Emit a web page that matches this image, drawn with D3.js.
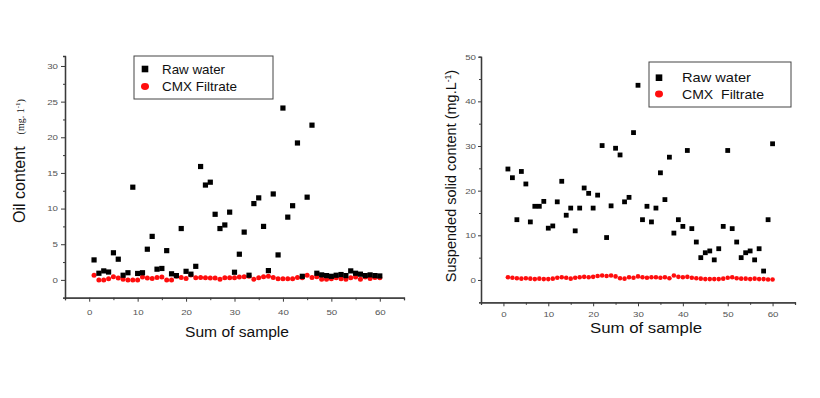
<!DOCTYPE html>
<html>
<head>
<meta charset="utf-8">
<script src="https://cdn.jsdelivr.net/npm/d3@7"></script>
<style>
  html, body { margin: 0; padding: 0; background: #fff; }
  svg { display: block; font-family: Arial, "Liberation Sans", sans-serif; }
</style>
</head>
<body>
<svg id="chart" width="820" height="398"></svg>
<script>
// Sample numbers (shared by both panels)
const samples = [
  1, 2, 3, 4, 5, 6, 7, 8, 9, 10, 11, 12, 13, 14, 15, 16, 17, 18, 19, 20,
  21, 22, 23, 24, 25, 26, 27, 28, 29, 30, 31, 32, 33, 34, 35, 36, 37, 38, 39, 40,
  41, 42, 43, 44, 45, 46, 47, 48, 49, 50, 51, 52, 53, 54, 55, 56, 57, 58, 59, 60
];

// Left panel: oil content (mg/l)
const oilRaw = [
  2.8, 0.93, 1.26, 1.1, 3.8, 2.9, 0.65, 1.0, 13.0, 0.9,
  1.0, 4.3, 6.1, 1.5, 1.6, 4.1, 0.85, 0.6, 7.2, 1.2,
  0.8, 1.9, 15.9, 13.3, 13.7, 9.2, 7.2, 7.7, 9.5, 1.07,
  3.6, 6.7, 0.65, 10.7, 11.5, 7.5, 1.3, 12.05, 3.5, 24.1,
  8.8, 10.4, 19.2, 0.5, 11.6, 21.7, 0.93, 0.7, 0.6, 0.5,
  0.65, 0.75, 0.6, 1.26, 0.93, 0.8, 0.6, 0.7, 0.6, 0.55
];
const oilFiltrate = [
  0.65, 0.0, 0.0, 0.15, 0.45, 0.25, 0.1, 0.0, 0.0, 0.0,
  0.4, 0.25, 0.2, 0.35, 0.4, 0.0, 0.0, 0.5, 0.35, 0.2,
  0.7, 0.3, 0.35, 0.3, 0.25, 0.25, 0.1, 0.3, 0.3, 0.3,
  0.4, 0.45, 0.5, 0.1, 0.3, 0.45, 0.5, 0.35, 0.15, 0.15,
  0.15, 0.15, 0.35, 0.3, 0.65, 0.35, 0.45, 0.1, 0.1, 0.15,
  0.3, 0.15, 0.1, 0.3, 0.4, 0.1, 0.4, 0.2, 0.35, 0.3
];

// Right panel: suspended solid content (mg/L)
const ssRaw = [
  24.85, 22.9, 13.5, 24.3, 21.5, 13.0, 16.5, 16.5, 17.6, 11.6,
  12.1, 17.5, 22.1, 14.5, 16.1, 11.0, 16.1, 20.6, 19.4, 16.1,
  19.0, 30.1, 9.5, 16.6, 29.5, 28.0, 17.5, 18.5, 33.0, 43.6,
  13.5, 16.5, 13.0, 16.1, 24.0, 18.0, 27.5, 10.5, 13.5, 12.0,
  29.0, 11.5, 8.5, 5.0, 6.1, 6.5, 4.5, 7.0, 12.0, 29.0,
  11.5, 8.5, 5.0, 6.1, 6.5, 4.5, 7.0, 2.0, 13.5, 30.5
];
const ssFiltrate = [
  0.6, 0.5, 0.4, 0.3, 0.4, 0.3, 0.2, 0.3, 0.2, 0.2,
  0.3, 0.5, 0.6, 0.5, 0.3, 0.5, 0.6, 0.7, 0.6, 0.7,
  0.9, 1.0, 0.9, 1.0, 0.8, 0.4, 0.3, 0.6, 0.5, 0.8,
  0.6, 0.5, 0.6, 0.6, 0.5, 0.6, 0.4, 1.0, 0.7, 0.6,
  0.7, 0.5, 0.4, 0.3, 0.2, 0.2, 0.2, 0.2, 0.3, 0.5,
  0.6, 0.4, 0.3, 0.3, 0.2, 0.3, 0.2, 0.2, 0.1, 0.1
];

// Tick labels
const xTicks = [0, 10, 20, 30, 40, 50, 60];
const xMinorTicks = [-5, 5, 15, 25, 35, 45, 55, 65];
const oilTicks = [0, 5, 10, 15, 20, 25, 30];
const oilMinorTicks = [-2.5, 2.5, 7.5, 12.5, 17.5, 22.5, 27.5];
const ssTicks = [0, 10, 20, 30, 40, 50];
const ssMinorTicks = [-5, 5, 15, 25, 35, 45];

const seriesNames = ["Raw water", "CMX Filtrate"];

const svg = d3.select("#chart");
const axisColor = "#3a3a3a";
const tickTextColor = "#555";

function drawPanel(p) {
  const x = d3.scaleLinear().domain(p.xDomain).range(p.xRange);
  const y = d3.scaleLinear().domain(p.yDomain).range(p.yRange);
  const g = svg.append("g");

  // minor ticks first, then the labelled axes
  g.append("g")
    .attr("transform", `translate(0,${p.yRange[0]})`)
    .call(d3.axisBottom(x).tickValues(xMinorTicks).tickSize(2.5).tickFormat(""));
  g.append("g")
    .attr("transform", `translate(${p.xRange[0]},0)`)
    .call(d3.axisLeft(y).tickValues(p.yMinor).tickSize(2).tickFormat(""));

  const xa = g.append("g")
    .attr("transform", `translate(0,${p.yRange[0]})`)
    .call(d3.axisBottom(x).tickValues(xTicks).tickSize(4).tickPadding(p.xPad).tickSizeOuter(0));
  const ya = g.append("g")
    .attr("transform", `translate(${p.xRange[0]},0)`)
    .call(d3.axisLeft(y).tickValues(p.yTicks).tickSize(p.yTickSize).tickPadding(p.yPad).tickSizeOuter(0));

  g.selectAll(".domain").attr("stroke", axisColor).attr("stroke-width", 1.3);
  g.selectAll(".tick line").attr("stroke", axisColor).attr("stroke-width", 1);
  [xa, ya].forEach((a) => {
    a.selectAll("text")
      .attr("fill", tickTextColor)
      .style("font-size", "7.5px")
      .attr("textLength", (d) => String(d).length * 5.4)
      .attr("lengthAdjust", "spacingAndGlyphs");
  });

  // filtrate circles
  g.selectAll(".filt")
    .data(samples)
    .enter()
    .append("circle")
    .attr("cx", (d) => x(d))
    .attr("cy", (d, i) => y(p.filtrate[i]))
    .attr("r", p.circleR)
    .attr("fill", "#ff0d0d");

  // raw water squares
  g.selectAll(".raw")
    .data(samples)
    .enter()
    .append("rect")
    .attr("x", (d) => x(d) - p.sq / 2)
    .attr("y", (d, i) => y(p.raw[i]) - p.sq / 2)
    .attr("width", p.sq)
    .attr("height", p.sq)
    .attr("fill", "#000");

  // x title
  g.append("text")
    .attr("x", p.xTitle.x)
    .attr("y", p.xTitle.y)
    .attr("text-anchor", "middle")
    .attr("fill", "#111")
    .style("font-size", p.xTitle.size + "px")
    .attr("textLength", p.xTitle.len)
    .attr("lengthAdjust", "spacingAndGlyphs")
    .text("Sum of sample");

  // legend
  const L = p.legend;
  g.append("rect")
    .attr("x", L.x).attr("y", L.y)
    .attr("width", L.w).attr("height", L.h)
    .attr("fill", "#fff")
    .attr("stroke", "#444")
    .attr("stroke-width", 1);
  g.append("rect")
    .attr("x", L.mx - 3.3).attr("y", L.y1 - 3.3)
    .attr("width", 6.6).attr("height", 6.6)
    .attr("fill", "#000");
  g.append("ellipse")
    .attr("cx", L.mx).attr("cy", L.y2)
    .attr("rx", 4).attr("ry", 3.4)
    .attr("fill", "#ff0d0d");
  L.labels.forEach((t, i) => {
    g.append("text")
      .attr("x", L.tx)
      .attr("y", (i === 0 ? L.y1 : L.y2) + 4.5)
      .attr("fill", "#111")
      .style("font-size", "13px")
      .attr("textLength", L.lens[i])
      .attr("lengthAdjust", "spacingAndGlyphs")
      .style("white-space", "pre")
      .text(t);
  });
  return g;
}

const left = drawPanel({
  xDomain: [-5, 65], xRange: [65, 404],
  yDomain: [-2.5, 31.4], yRange: [297.7, 56],
  yTicks: oilTicks, yMinor: oilMinorTicks,
  yTickSize: 4, yPad: 3, xPad: 7.5,
  raw: oilRaw, filtrate: oilFiltrate,
  sq: 5.2, circleR: 2.5,
  xTitle: { x: 237, y: 337, size: 14, len: 104 },
  legend: {
    x: 134, y: 56, w: 139, h: 43, mx: 145, y1: 69, y2: 86.5, tx: 162,
    labels: [seriesNames[0], seriesNames[1]], lens: [63, 75]
  }
});

const right = drawPanel({
  xDomain: [-5, 65], xRange: [481, 795],
  yDomain: [-5, 50], yRange: [302.3, 56.7],
  yTicks: ssTicks, yMinor: ssMinorTicks,
  yTickSize: 3, yPad: 2, xPad: 5.5,
  raw: ssRaw, filtrate: ssFiltrate,
  sq: 4.8, circleR: 2.3,
  xTitle: { x: 646, y: 333, size: 14.5, len: 112 },
  legend: {
    x: 649, y: 62, w: 142, h: 45, mx: 659, y1: 77.7, y2: 94, tx: 682,
    labels: [seriesNames[0], "CMX  Filtrate"], lens: [69, 82]
  }
});

// y titles
const serif = "'Liberation Serif', 'DejaVu Serif', serif";
const oilTitle = left.append("text")
  .attr("transform", "translate(25,161) rotate(-90)")
  .attr("text-anchor", "middle")
  .attr("fill", "#111");
oilTitle.append("tspan")
  .style("font-size", "16px")
  .text("Oil content");
oilTitle.append("tspan")
  .attr("dx", 12)
  .attr("dy", -1.5)
  .style("font-size", "10px")
  .style("font-family", serif)
  .text("(mg. 1");
oilTitle.append("tspan")
  .attr("dy", -4)
  .style("font-size", "7px")
  .style("font-family", serif)
  .text("-1");
oilTitle.append("tspan")
  .attr("dy", 4)
  .style("font-size", "10px")
  .style("font-family", serif)
  .text(")");

const ssTitle = right.append("text")
  .attr("transform", "translate(456,176) rotate(-90)")
  .attr("text-anchor", "middle")
  .attr("fill", "#111")
  .style("font-size", "14.5px");
ssTitle.append("tspan").text("Suspended solid content (mg.L");
ssTitle.append("tspan").attr("dy", -5.5).style("font-size", "8.5px").text("-1");
ssTitle.append("tspan").attr("dy", 5.5).text(")");
</script>
</body>
</html>
